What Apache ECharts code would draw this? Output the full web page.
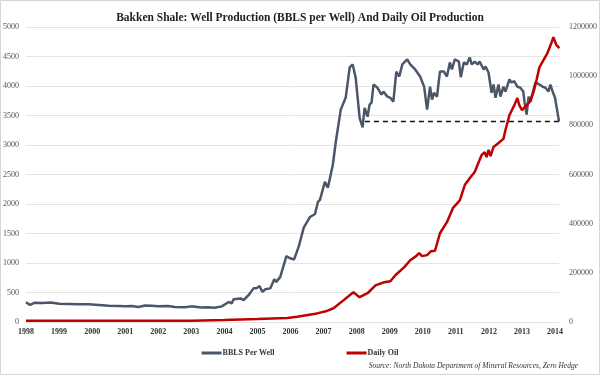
<!DOCTYPE html>
<html>
<head>
<meta charset="utf-8">
<script src="https://cdn.jsdelivr.net/npm/echarts@6/dist/echarts.min.js"></script>
<style>
  html, body { margin: 0; padding: 0; background: #fff; }
  #main { width: 600px; height: 375px; }
</style>
</head>
<body>
<div id="main"></div>
<script>
// well production (BBLS per well), x = decimal year
const wellYears = [
  1998.0, 1998.12, 1998.25, 1998.5, 1998.75, 1999.0, 1999.3, 1999.6, 1999.9, 2000.2,
  2000.5, 2000.8, 2001.0, 2001.2, 2001.4, 2001.6, 2001.8, 2002.0, 2002.3, 2002.5,
  2002.8, 2003.0, 2003.3, 2003.5, 2003.7, 2003.92, 2004.13, 2004.22, 2004.28, 2004.49,
  2004.58, 2004.73, 2004.88, 2004.97, 2005.06, 2005.15, 2005.24, 2005.39, 2005.51, 2005.57,
  2005.69, 2005.84, 2005.87, 2005.99, 2006.11, 2006.26, 2006.32, 2006.4, 2006.45, 2006.59,
  2006.74, 2006.83, 2006.89, 2007.04, 2007.13, 2007.28, 2007.37, 2007.52, 2007.67, 2007.79,
  2007.88, 2007.97, 2008.09, 2008.18, 2008.24, 2008.33, 2008.39, 2008.45, 2008.51, 2008.63,
  2008.75, 2008.81, 2008.93, 2009.02, 2009.11, 2009.2, 2009.29, 2009.38, 2009.53, 2009.62,
  2009.77, 2009.92, 2010.04, 2010.13, 2010.22, 2010.28, 2010.34, 2010.43, 2010.52, 2010.64,
  2010.73, 2010.82, 2010.88, 2010.97, 2011.09, 2011.15, 2011.24, 2011.33, 2011.42, 2011.48,
  2011.57, 2011.66, 2011.72, 2011.84, 2011.9, 2011.99, 2012.08, 2012.14, 2012.2, 2012.29,
  2012.35, 2012.44, 2012.5, 2012.62, 2012.68, 2012.77, 2012.86, 2012.95, 2013.04, 2013.08,
  2013.14, 2013.2, 2013.26, 2013.35, 2013.41, 2013.53, 2013.62, 2013.71, 2013.8, 2013.86,
  2013.94, 2014.0, 2014.12
];
const wellValues = [
  335, 290, 325, 320, 330, 310, 305, 300, 300, 290,
  275, 270, 265, 270, 255, 280, 275, 265, 270, 255,
  250, 265, 245, 250, 240, 265, 340, 315, 385, 400,
  370, 455, 570, 570, 610, 510, 555, 570, 725, 680,
  765, 1050, 1115, 1080, 1060, 1300, 1330, 1600, 1580, 1780,
  1830, 2035, 2070, 2375, 2275, 2665, 3055, 3600, 3805, 4315,
  4365, 4145, 3460, 3300, 3630, 3480, 3685, 3720, 4025, 3970,
  3855, 3905, 3820, 3800, 3735, 4245, 4160, 4365, 4450, 4365,
  4280, 4160, 3990, 3600, 3990, 3770, 3885, 3820, 4245, 4245,
  4160, 4400, 4280, 4450, 4415, 4150, 4400, 4365, 4485, 4365,
  4415, 4365, 4415, 4280, 4330, 4225, 3885, 4025, 3800, 4025,
  3820, 3990, 3905, 4110, 4060, 4080, 3990, 3970, 3905, 3720,
  3515, 3820, 3735, 3940, 4060, 4025, 3990, 3970, 3905, 4025,
  3885, 3800, 3400
];

// daily oil production (barrels per day)
const oilYears = [
  1998.0, 1999.0, 2000.0, 2001.0, 2002.0, 2003.0, 2004.0, 2005.0, 2005.9, 2006.2,
  2006.8, 2007.1, 2007.3, 2007.6, 2007.9, 2008.09, 2008.33, 2008.57, 2008.84, 2009.02,
  2009.17, 2009.44, 2009.62, 2009.8, 2009.89, 2009.98, 2010.13, 2010.25, 2010.37, 2010.52,
  2010.73, 2010.91, 2011.12, 2011.27, 2011.42, 2011.57, 2011.78, 2011.87, 2011.93, 2011.99,
  2012.05, 2012.14, 2012.29, 2012.44, 2012.5, 2012.62, 2012.77, 2012.86, 2012.92, 2013.0,
  2013.14, 2013.23, 2013.35, 2013.44, 2013.53, 2013.65, 2013.77, 2013.89, 2013.95, 2014.04,
  2014.13
];
const oilValues = [
  5000, 5000, 5500, 5000, 5000, 5500, 8000, 12000, 16000, 21000,
  35000, 45000, 56000, 88000, 121000, 101000, 117000, 149000, 162000, 166000,
  190000, 223000, 251000, 268000, 280000, 268000, 272000, 288000, 290000, 361000,
  406000, 463000, 495000, 557000, 585000, 610000, 679000, 691000, 671000, 700000,
  675000, 712000, 728000, 745000, 781000, 841000, 882000, 911000, 882000, 862000,
  882000, 894000, 935000, 984000, 1037000, 1065000, 1094000, 1135000, 1159000, 1127000,
  1114000
];

// dashed reference level
const refYears = [2008.25, 2014.12];
const refValues = [3400, 3400];

const yearLabels = ['1998', '1999', '2000', '2001', '2002', '2003', '2004', '2005', '2006',
  '2007', '2008', '2009', '2010', '2011', '2012', '2013', '2014'];

const zip = (xs, ys) => xs.map((x, i) => [x, ys[i]]);

const serif = '"Liberation Serif", "DejaVu Serif", serif';

let myChart = echarts.init(document.getElementById('main'));
let option = {
  backgroundColor: '#fff',
  animation: false,
  title: {
    text: 'Bakken Shale: Well Production (BBLS per Well) And Daily Oil Production',
    left: 'center',
    top: 7,
    textStyle: { fontFamily: serif, fontSize: 11.5, fontWeight: 'bold', color: '#222' }
  },
  graphic: [
    {
      type: 'rect',
      shape: { x: 0.5, y: 0.5, width: 599, height: 374 },
      style: { fill: 'none', stroke: '#d6d6d6', lineWidth: 1 },
      silent: true
    },
    {
      type: 'text',
      right: 22,
      top: 362,
      style: {
        text: 'Source: North Dakota Department of Mineral Resources, Zero Hedge',
        font: 'italic 7.5px ' + serif,
        fill: '#333'
      }
    }
  ],
  legend: {
    data: ['BBLS Per Well', 'Daily Oil'],
    top: 344,
    left: 'center',
    itemGap: 72,
    itemWidth: 20,
    itemHeight: 3,
    icon: 'rect',
    textStyle: { fontFamily: serif, fontSize: 8, fontWeight: 'bold', color: '#333', padding: [0, 0, 0, -4] }
  },
  grid: { left: 25, right: 37, top: 27, bottom: 53 },
  xAxis: {
    type: 'value',
    min: 1998,
    max: 2014.12,
    interval: 1,
    axisLine: { show: false },
    axisTick: { show: false },
    splitLine: { show: false },
    axisLabel: {
      showMaxLabel: false,
      margin: 6,
      fontFamily: serif,
      fontSize: 8,
      fontWeight: 'bold',
      color: '#333',
      formatter: v => yearLabels[Math.round(v) - 1998] || ''
    }
  },
  yAxis: [
    {
      type: 'value',
      min: 0,
      max: 5000,
      interval: 500,
      axisLine: { show: false },
      axisTick: { show: false },
      splitLine: { lineStyle: { color: '#e4e4e4', width: 1 } },
      axisLabel: { margin: 7, fontFamily: serif, fontSize: 8, color: '#555', formatter: v => String(v) }
    },
    {
      type: 'value',
      min: 0,
      max: 1200000,
      interval: 200000,
      axisLine: { show: false },
      axisTick: { show: false },
      splitLine: { show: false },
      axisLabel: { margin: 10, fontFamily: serif, fontSize: 8, color: '#555', formatter: v => String(v) }
    }
  ],
  series: [
    {
      name: 'BBLS Per Well',
      type: 'line',
      yAxisIndex: 0,
      data: zip(wellYears, wellValues),
      showSymbol: false,
      color: '#4b5769',
      lineStyle: { width: 2.5, color: '#4b5769' },
      z: 3
    },
    {
      name: 'Daily Oil',
      type: 'line',
      yAxisIndex: 1,
      data: zip(oilYears, oilValues),
      showSymbol: false,
      color: '#bf0000',
      lineStyle: { width: 2.5, color: '#bf0000' },
      z: 4
    },
    {
      name: 'ref',
      type: 'line',
      yAxisIndex: 0,
      data: zip(refYears, refValues),
      showSymbol: false,
      lineStyle: { width: 1.5, type: [5, 4], color: '#111' },
      z: 5
    }
  ]
};
option && myChart.setOption(option);
</script>
</body>
</html>
